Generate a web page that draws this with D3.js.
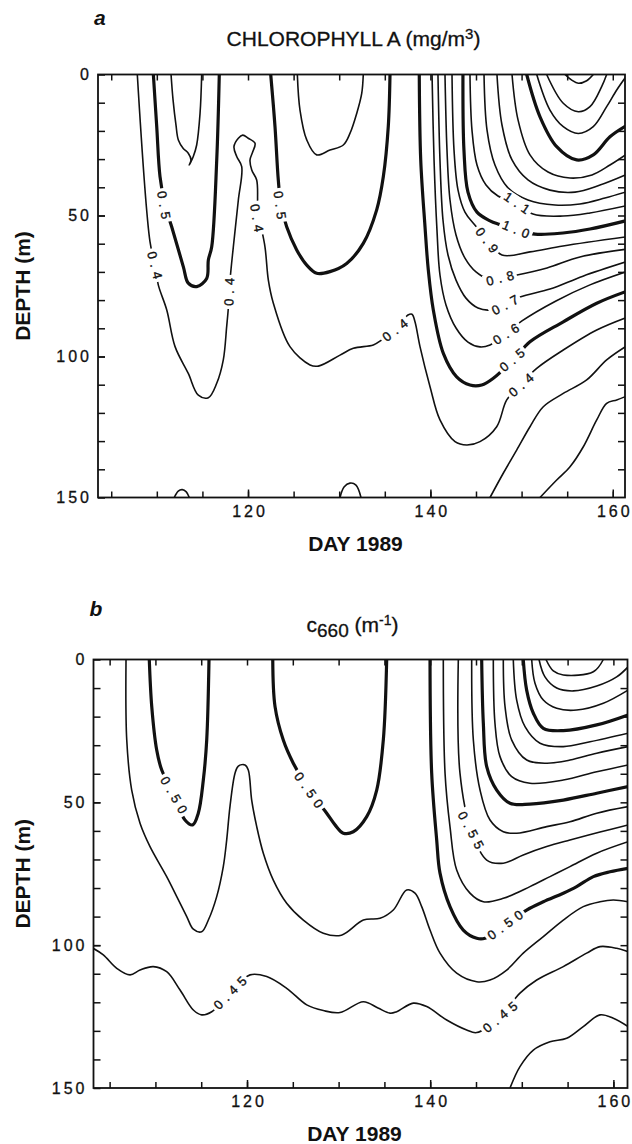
<!DOCTYPE html>
<html>
<head>
<meta charset="utf-8">
<script src="https://cdn.jsdelivr.net/npm/d3@7"></script>
<style>
body { margin: 0; background: #fff; }
svg text { font-family: "Liberation Sans", Arial, sans-serif; fill: #111; }
</style>
</head>
<body>
<svg id="chart" width="632" height="1144"></svg>
<script>
// axis ranges and ticks
var dayExtentA = [103.55, 161.34];
var dayExtentB = [103.24, 161.54];
var depthExtent = [0, 150];
var dayTicks = [120, 140, 160];
var dayMinorTicks = [105, 110, 115, 120, 125, 130, 135, 140, 145, 150, 155, 160];
var depthTicks = [0, 50, 100, 150];
var depthMinorTicks = [10, 20, 30, 40, 50, 60, 70, 80, 90, 100, 110, 120, 130, 140];

// panel a : chlorophyll contours, [day, depth]
var chl04 = [[107.86,0],[109.25,59.3],[109.8,67.6],[110.16,74.6],[111.09,83.5],[112.0,96.5],[113.45,106.0],[114.55,113.7],[115.65,114.6],[116.57,109.5],[117.29,101.2],[117.66,89.4],[117.84,82.9],[118.03,72.9],[118.39,61.1],[118.94,44.5],[119.31,32.7],[118.76,29.1],[118.46,25.6],[118.94,22.6],[119.42,21.5],[120.03,22.6],[120.77,24.4],[120.52,27.4],[120.22,30.3],[120.41,33.9],[120.95,37.4],[121.1,48.0],[121.86,61.1],[122.23,72.9],[122.77,81.0],[124.6,96.5],[126.8,103.0],[127.71,103.4],[130.09,99.5],[131.55,97.1],[133.74,95.9],[134.66,94.1],[136.12,90.6],[137.54,85.3],[137.98,85.0],[138.31,87.7],[138.86,96.5],[139.96,110.7],[141.05,122.5],[142.7,130.2],[143.98,131.4],[145.44,130.2],[147.27,124.9],[148.37,115.4],[149.82,110.1],[151.66,104.2],[154.57,97.7],[158.24,90.6],[161.4,86.3]];
var chl06Left = [[111.56,0],[111.78,9.0],[112.1,17.9],[112.36,23.2],[112.9,26.2],[113.45,27.9],[113.75,30.3],[113.56,32.1],[114.0,29.1],[114.37,25.0],[114.74,13.8],[114.92,0]];
var chl05Left = [[109.62,0],[109.99,18.5],[110.35,36.2],[110.9,46.3],[111.63,54.0],[112.91,68.2],[113.45,74.0],[114.38,75.2],[115.47,72.3],[115.65,65.8],[116.02,61.1],[116.57,30.3],[116.85,0]];
var chl05Mid = [[122.49,0],[122.96,18.5],[123.32,37.4],[123.62,46.3],[124.24,54.0],[125.34,62.2],[126.44,67.6],[127.53,70.5],[128.99,69.9],[130.82,67.0],[132.64,59.9],[134.11,48.0],[134.84,36.2],[135.38,18.5],[135.57,0]];
var chl06Mid = [[125.41,0],[125.7,12.6],[126.44,23.2],[127.53,28.5],[128.99,26.8],[130.45,25.0],[131.18,20.9],[131.92,13.8],[132.47,6.7],[132.64,0]];
var chl05 = [[138.78,0],[138.94,30.3],[139.41,54.0],[139.77,69.3],[140.32,83.5],[141.42,98.9],[142.88,107.2],[144.34,110.1],[145.63,110.1],[146.9,107.7],[149.28,100.5],[150.92,94.8],[154.57,87.7],[158.24,81.1],[161.4,77.0]];
var chl06 = [[140.18,0],[140.4,30.3],[140.72,55.1],[141.05,71.1],[141.71,81.7],[142.81,89.9],[144.12,94.9],[145.44,96.6],[146.54,95.9],[148.29,92.0],[150.04,87.4],[153.77,80.3],[157.5,74.6],[161.4,70.0]];
var chl07 = [[140.83,0],[141.05,30.3],[141.38,51.6],[141.93,64.0],[142.81,72.9],[143.9,79.3],[145.22,82.8],[146.54,83.5],[148.2,81.5],[149.83,78.9],[153.11,76.1],[156.73,71.5],[161.4,66.5]];
var chl08 = [[141.6,0],[141.82,26.8],[142.15,44.5],[142.81,56.9],[143.79,65.1],[145.0,70.0],[146.21,72.2],[147.8,72.0],[149.5,71.1],[152.79,68.6],[156.4,64.7],[161.4,62.0]];
var chl09 = [[142.37,0],[142.59,26.8],[143.03,41.0],[143.79,48.8],[144.78,53.0],[146.3,58.5],[147.85,64.0],[150.92,62.9],[154.54,60.8],[161.4,57.6]];
var chl10 = [[143.57,0],[143.68,26.8],[144.12,41.7],[145.11,48.8],[146.54,51.9],[147.41,53.0],[149.4,54.8],[151.47,56.6],[154.54,56.2],[157.5,54.8],[161.4,51.9]];
var chl11 = [[144.34,0],[144.56,19.7],[145.11,32.1],[146.1,39.2],[147.41,43.1],[149.5,45.5],[151.25,49.5],[154.54,50.2],[157.5,49.1],[161.4,46.6]];
var chl12 = [[145.88,0],[146.21,19.7],[147.08,32.1],[148.51,40.2],[150.7,44.5],[153.66,46.3],[156.4,45.9],[159.14,43.8],[161.4,41.7]];
var chl13 = [[147.3,0],[147.85,17.9],[148.95,30.3],[150.7,37.4],[153.11,41.0],[155.86,41.7],[158.6,39.2],[161.4,35.6]];
var chl14 = [[148.95,0],[149.61,16.1],[150.92,28.5],[152.9,34.6],[155.31,36.7],[157.72,35.6],[159.69,32.1],[161.4,28.5]];
var chl15 = [[150.56,0],[152.02,15.0],[153.85,25.6],[156.04,30.3],[157.86,28.5],[159.69,22.1],[161.4,18.3]];
var chl16 = [[151.66,0],[153.11,12.6],[154.57,18.5],[156.22,20.9],[157.86,18.5],[159.33,11.4],[160.43,5.5],[161.4,1.0]];
var chl17 = [[152.75,0],[154.57,10.2],[156.22,13.2],[157.5,11.4],[158.78,4.3],[159.33,0]];
var chl18 = [[154.76,0],[155.5,2.0],[156.22,3.1],[157.14,2.2],[157.86,0]];
var chl03 = [[146.54,150],[147.99,141.4],[149.46,133.2],[150.92,124.9],[152.38,117.8],[154.57,113.1],[157.14,108.3],[159.33,101.2],[161.4,96.5]];
var chl02 = [[152.02,150],[153.85,143.8],[155.31,139.1],[156.77,132.0],[158.24,122.5],[159.33,116.6],[160.43,115.4],[161.4,114.2]];
var chlBump1 = [[111.91,150],[112.35,147.7],[112.79,147.2],[113.23,148.0],[113.56,150]];
var chlBump2 = [[130.09,150],[130.53,146.3],[131.18,144.9],[131.84,145.6],[132.39,150]];

var chlThin = [chl04, chl06Left, chl06Mid, chl06, chl07, chl08, chl09, chl11, chl12, chl13, chl14, chl16, chl17, chl18, chl03, chl02, chlBump1, chlBump2];
var chlBold = [chl05Left, chl05Mid, chl05, chl10, chl15];
// [day, depth, text, angle]
var chlLabels = [
	[109.8, 67.6, "0.4", 76],
	[110.79, 46.3, "0.5", 80],
	[117.92, 77.1, "0.4", -88],
	[120.99, 50.9, "0.4", 80],
	[123.51, 46.3, "0.5", 82],
	[136.12, 90.6, "0.4", -38],
	[149.93, 110.1, "0.4", -41],
	[148.95, 101.2, "0.5", -40],
	[148.29, 92.0, "0.6", -32],
	[148.18, 81.7, "0.7", -28],
	[147.63, 72.2, "0.8", -14],
	[146.21, 58.7, "0.9", 53],
	[149.39, 54.8, "1.0", 22],
	[149.5, 45.5, "1.1", 34]
];

// panel b : c660 contours, [day, depth]
var c475 = [[106.79,0],[106.87,28.2],[107.41,45.7],[108.32,57.3],[109.41,65.5],[111.23,76.0],[112.33,83.0],[113.42,90.0],[114.14,94.4],[115.05,95.3],[115.78,91.2],[116.69,83.0],[117.41,72.5],[117.78,63.2],[118.14,51.5],[118.69,39.8],[119.05,37.3],[119.78,36.9],[120.14,38.7],[120.51,49.2],[121.06,58.5],[121.78,67.8],[122.87,77.2],[124.33,85.3],[126.15,91.2],[128.33,95.8],[130.3,96.5],[132.7,91.2],[134.52,90.6],[135.97,87.7],[137.43,80.7],[138.34,81.8],[139.07,86.5],[139.98,94.7],[141.07,102.8],[142.89,109.8],[145.08,112.8],[146.53,112.2],[148.35,108.7],[150.16,102.8],[152.35,97.0],[154.53,91.2],[156.71,86.5],[158.54,84.8],[159.99,84.2],[161.6,84.8]];
var c50Left = [[109.33,0],[109.6,16.5],[110.14,31.7],[110.69,38.7],[112.03,47.4],[113.23,56.2],[114.07,57.9],[114.68,53.8],[115.23,42.2],[115.6,28.2],[115.85,0]];
var c50Mid = [[122.81,0],[123.06,16.5],[123.96,28.2],[125.05,36.3],[126.77,45.7],[128.7,53.8],[129.61,57.9],[130.51,60.8],[131.6,60.3],[133.07,55.0],[134.16,45.7],[134.88,28.2],[135.25,0]];
var c50 = [[139.98,0],[140.16,39.7],[140.71,63.2],[141.07,74.8],[142.16,86.5],[143.61,94.7],[145.08,97.6],[145.98,97.6],[148.17,92.9],[150.53,87.7],[152.35,84.8],[154.53,81.8],[155.99,79.5],[157.81,76.0],[159.63,74.3],[161.6,73.1]];
var c525 = [[141.43,0],[141.62,39.8],[142.16,58.5],[142.89,73.7],[144.34,81.8],[145.8,84.8],[147.98,83.6],[150.89,79.5],[153.08,76.0],[155.26,72.5],[158.18,67.8],[161.6,63.8]];
var c55 = [[143.07,0],[143.25,39.8],[144.45,59.7],[146.17,70.2],[147.98,71.3],[150.16,68.4],[152.72,65.5],[155.26,63.2],[158.54,60.4],[161.6,57.9]];
var c575 = [[144.53,0],[144.71,28.2],[145.44,45.7],[146.53,56.2],[147.98,60.3],[149.44,60.8],[152.72,58.5],[155.26,56.8],[158.18,53.8],[161.6,51.5]];
var c60 = [[145.62,0],[145.8,22.3],[146.17,37.5],[147.26,45.7],[148.71,50.3],[150.89,50.6],[154.53,49.2],[158.18,46.8],[161.6,44.5]];
var c625 = [[146.89,0],[147.07,22.3],[147.62,34.0],[148.9,41.0],[150.89,43.3],[154.53,42.2],[158.18,39.3],[161.6,36.9]];
var c65 = [[147.98,0],[148.17,16.5],[148.9,28.2],[150.54,35.2],[152.72,36.3],[155.26,35.2],[158.18,32.8],[161.6,30.5]];
var c675 = [[149.07,0],[149.44,14.2],[150.35,23.5],[151.99,29.3],[154.53,30.5],[157.45,28.8],[161.6,25.8]];
var c70 = [[150.16,0],[150.53,10.7],[151.26,18.8],[152.35,24.1],[154.53,24.9],[158.18,22.9],[161.6,19.4]];
var c725 = [[151.08,0],[151.44,8.3],[152.35,14.2],[153.81,17.1],[155.99,17.7],[158.9,15.3],[161.6,10.7]];
var c75 = [[151.88,0],[152.53,6.1],[153.81,10.0],[155.62,11.0],[158.18,9.3],[160.36,6.1],[161.6,2.6]];
var c775 = [[152.64,0],[153.44,4.0],[154.53,5.4],[157.81,4.3],[158.9,0]];
var c45 = [[103.2,101.1],[104.31,103.4],[105.78,108.1],[107.23,110.4],[108.32,108.7],[109.77,107.5],[111.23,109.3],[112.69,115.7],[114.14,122.7],[115.05,124.4],[116.15,123.3],[118.14,116.7],[120.33,110.4],[122.15,111.0],[124.33,115.1],[126.52,120.9],[128.33,122.9],[130.15,123.6],[132.7,119.8],[134.3,122.0],[135.61,123.8],[136.34,123.3],[138.15,120.3],[139.62,121.5],[141.8,126.2],[143.98,129.7],[145.08,130.6],[147.62,125.1],[149.8,116.8],[151.63,112.2],[154.53,107.5],[157.08,102.8],[158.54,100.5],[160.36,101.1],[161.6,102.3]];
var c425 = [[148.71,150],[149.8,142.5],[151.26,136.7],[153.08,133.8],[154.9,132.6],[156.71,128.5],[158.54,124.4],[159.99,125.6],[161.6,128.5]];

var cThin = [c475, c525, c55, c575, c625, c65, c675, c725, c75, c775, c45, c425];
var cBold = [c50Left, c50Mid, c50, c60, c70];
var cLabels = [
	[112.03, 47.4, "0.50", 60],
	[126.77, 45.7, "0.50", 55],
	[144.45, 59.7, "0.55", 62],
	[148.17, 92.9, "0.50", -36],
	[118.14, 116.7, "0.45", -45],
	[147.62, 125.1, "0.45", -40]
];

var svg = d3.select("#chart");

var panels = [
	{ key: "a", title: "chl", dayExtent: dayExtentA, thin: chlThin, bold: chlBold, labels: chlLabels,
	  left: 98, right: 625, top: 74.5, bottom: 497.5, letterY: 25, titleY: 46, dayY: 551 },
	{ key: "b", title: "c660", dayExtent: dayExtentB, thin: cThin, bold: cBold, labels: cLabels,
	  left: 93.5, right: 627.5, top: 659.5, bottom: 1088, letterY: 616, titleY: 632, dayY: 1141 }
];

panels.forEach(function(p, i) {
	var x = d3.scaleLinear().domain(p.dayExtent).range([p.left, p.right]);
	var y = d3.scaleLinear().domain(depthExtent).range([p.top, p.bottom]);

	var line = d3.line()
		.x(function(d) { return x(d[0]); })
		.y(function(d) { return y(d[1]); })
		.curve(d3.curveCatmullRom.alpha(0.5));

	var g = svg.append("g").attr("class", "panel " + p.key);

	g.append("clipPath").attr("id", "clip" + i)
		.append("rect")
		.attr("x", p.left).attr("y", p.top)
		.attr("width", p.right - p.left).attr("height", p.bottom - p.top);

	var plot = g.append("g").attr("clip-path", "url(#clip" + i + ")");

	plot.selectAll("path.thin")
		.data(p.thin)
	.enter().append("path")
		.attr("class", "thin")
		.attr("d", line)
		.attr("fill", "none")
		.attr("stroke", "#111")
		.attr("stroke-width", 1.6)
		.attr("stroke-linejoin", "round");

	plot.selectAll("path.bold")
		.data(p.bold)
	.enter().append("path")
		.attr("class", "bold")
		.attr("d", line)
		.attr("fill", "none")
		.attr("stroke", "#111")
		.attr("stroke-width", 3.2)
		.attr("stroke-linejoin", "round");

	// contour labels on a white box that breaks the line
	var lab = plot.selectAll("g.clab")
		.data(p.labels)
	.enter().append("g")
		.attr("class", "clab")
		.attr("transform", function(d) { return "translate(" + x(d[0]) + "," + y(d[1]) + ") rotate(" + d[3] + ")"; });
	var box = lab.append("rect").attr("fill", "#fff");
	var txt = lab.append("text")
		.attr("text-anchor", "middle")
		.attr("dx", 2.5)
		.attr("dy", "0.36em")
		.attr("stroke", "#111")
		.attr("stroke-width", 0.35)
		.style("font-size", "13px")
		.style("letter-spacing", "5px")
		.text(function(d) { return d[2]; });
	txt.each(function(d, k) {
		var w = this.getComputedTextLength() - 5 + 6;
		d3.select(box.nodes()[k])
			.attr("x", -w / 2).attr("y", -6.5)
			.attr("width", w).attr("height", 13);
	});

	// ticks on all four sides, pointing inward
	function clean(sel) {
		sel.select(".domain").remove();
		sel.selectAll("line").attr("stroke", "#111").attr("stroke-width", 1.5);
		sel.selectAll("text").style("font-size", "16px").style("letter-spacing", "3px")
			.attr("fill", "#111").attr("stroke", "#111").attr("stroke-width", 0.3);
	}

	g.append("g").attr("transform", "translate(0," + p.bottom + ")")
		.call(d3.axisBottom(x).tickValues(dayMinorTicks).tickSize(-6).tickFormat(""))
		.call(clean);
	g.append("g").attr("transform", "translate(0," + p.bottom + ")")
		.call(d3.axisBottom(x).tickValues(dayTicks).tickSize(-8).tickPadding(8).tickFormat(d3.format("d")))
		.call(clean)
		.selectAll("text").attr("dx", "1.5px");
	g.append("g").attr("transform", "translate(0," + p.top + ")")
		.call(d3.axisTop(x).tickValues(dayMinorTicks).tickSize(-6).tickFormat(""))
		.call(clean);
	g.append("g").attr("transform", "translate(" + p.left + ",0)")
		.call(d3.axisLeft(y).tickValues(depthMinorTicks).tickSize(-7).tickFormat(""))
		.call(clean);
	g.append("g").attr("transform", "translate(" + p.left + ",0)")
		.call(d3.axisLeft(y).tickValues(depthTicks).tickSize(-7).tickPadding(6).tickFormat(d3.format("d")))
		.call(clean);
	g.append("g").attr("transform", "translate(" + p.right + ",0)")
		.call(d3.axisRight(y).tickValues(depthMinorTicks).tickSize(-7).tickFormat(""))
		.call(clean);

	g.append("rect")
		.attr("x", p.left).attr("y", p.top)
		.attr("width", p.right - p.left).attr("height", p.bottom - p.top)
		.attr("fill", "none")
		.attr("stroke", "#111")
		.attr("stroke-width", 1.8);

	var midX = (p.left + p.right) / 2;

	g.append("text")
		.attr("x", p.left - 4).attr("y", p.letterY)
		.style("font-size", "21px").style("font-weight", "bold").style("font-style", "italic")
		.text(p.key);

	var title = g.append("text")
		.attr("x", midX - 8).attr("y", p.titleY)
		.attr("text-anchor", "middle")
		.attr("stroke", "#111").attr("stroke-width", 0.3)
		.style("font-size", "21px");
	if (p.title == "chl") {
		title.append("tspan").text("CHLOROPHYLL A (mg/m");
		title.append("tspan").attr("dy", -7).style("font-size", "15px").text("3");
		title.append("tspan").attr("dy", 7).text(")");
	} else {
		title.append("tspan").text("c");
		title.append("tspan").attr("dy", 5).style("font-size", "19px").text("660");
		title.append("tspan").attr("dy", -5).text(" (m");
		title.append("tspan").attr("dy", -7).style("font-size", "14px").text("-1");
		title.append("tspan").attr("dy", 7).text(")");
	}

	g.append("text")
		.attr("transform", "translate(30," + ((p.top + p.bottom) / 2) + ") rotate(-90)")
		.attr("text-anchor", "middle")
		.style("font-size", "21px").style("font-weight", "bold")
		.text("DEPTH (m)");

	g.append("text")
		.attr("x", midX - 6).attr("y", p.dayY)
		.attr("text-anchor", "middle")
		.style("font-size", "21px").style("font-weight", "bold")
		.text("DAY 1989");
});
</script>
</body>
</html>
